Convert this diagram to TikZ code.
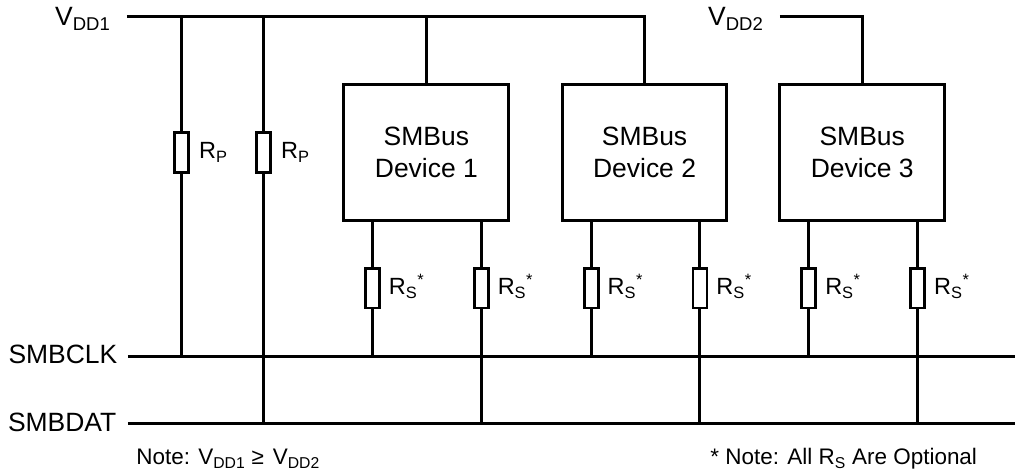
\documentclass[tikz,border=0pt]{standalone}
\usepackage{fontspec}
\setmainfont{Liberation Sans}
\begin{document}
\begin{tikzpicture}[x=1pt,y=-1pt,line width=3pt,line join=miter,
  res/.style={draw,rectangle,minimum width=14pt,minimum height=40pt,inner sep=0pt,line width=2.8pt},
  dev/.style={draw,rectangle,minimum width=165pt,minimum height=136pt,inner sep=0pt,align=center,font=\fontsize{26.5}{32}\selectfont},
  lbl/.style={inner sep=0pt,anchor=base east,font=\fontsize{26.5}{30}\selectfont},
  rlbl/.style={inner sep=0pt,anchor=base west,font=\fontsize{23.5}{28}\selectfont},
  note/.style={inner sep=0pt,anchor=base west,font=\fontsize{22.5}{27}\selectfont}]
\path[fill=white] (0,0) rectangle (1016,471);

% labels
\node[lbl] (vdd1) at (112,26) {V\textsubscript{DD1}};
\node[lbl] (vdd2) at (766,26) {V\textsubscript{DD2}};
\node[lbl] (clk) at (119,364) {SMBCLK};
\node[lbl] (dat) at (118,432) {SMBDAT};
\node[note] (n1) at (135,465) {Note: V\textsubscript{DD1} ≥\hspace{0.4em}V\textsubscript{DD2}};
\node[note] (n2) at (710,465) {* Note: All R\textsubscript{S} Are Optional};

% devices
\node[dev] (d1) at (427,153) {SMBus\\Device 1};
\node[dev] (d2) at (645.5,153) {SMBus\\Device 2};
\node[dev] (d3) at (863.5,153) {SMBus\\Device 3};

% pull-up resistors
\node[res] (rp1) at (182,153) {};
\node[res] (rp2) at (264,153) {};
\node[rlbl] (lrp1) at (198,159) {R\textsubscript{P}};
\node[rlbl] (lrp2) at (280,159) {R\textsubscript{P}};

% series resistors
\foreach \i/\x in {1/373,2/482,3/592,4/701,5/810,6/919}{
  \node[res] (rs\i) at (\x,288.5) {};
  \node[rlbl] (lrs\i) at (\x+15,295) {R\textsubscript{S}\textsuperscript{*}};
}

% rail coordinates
\coordinate (v1s) at (127,17);
\coordinate (v2s) at (781,17);
\coordinate (clks) at (128,357);
\coordinate (clke) at (1016,357);
\coordinate (dats) at (128,424);
\coordinate (date) at (1016,424);

% VDD1 rail
\draw (v1s) -- (v1s -| d2.north) -- (d2.north);
\draw (v1s -| d1.north) -- (d1.north);
\draw (v1s -| rp1) -- (rp1.north);
\draw (v1s -| rp2) -- (rp2.north);
% VDD2 rail
\draw (v2s) -- (v2s -| d3.north) -- (d3.north);

% buses
\draw (clks) -- (clke);
\draw (dats) -- (date);

% pull-ups to buses
\draw (rp1.south) -- (clks -| rp1);
\draw (rp2.south) -- (dats -| rp2);

% device series resistors
\draw (d1.south -| rs1) -- (rs1.north);
\draw (d1.south -| rs2) -- (rs2.north);
\draw (d2.south -| rs3) -- (rs3.north);
\draw (d2.south -| rs4) -- (rs4.north);
\draw (d3.south -| rs5) -- (rs5.north);
\draw (d3.south -| rs6) -- (rs6.north);
\draw (rs1.south) -- (clks -| rs1);
\draw (rs2.south) -- (dats -| rs2);
\draw (rs3.south) -- (clks -| rs3);
\draw (rs4.south) -- (dats -| rs4);
\draw (rs5.south) -- (clks -| rs5);
\draw (rs6.south) -- (dats -| rs6);
\end{tikzpicture}
\end{document}
